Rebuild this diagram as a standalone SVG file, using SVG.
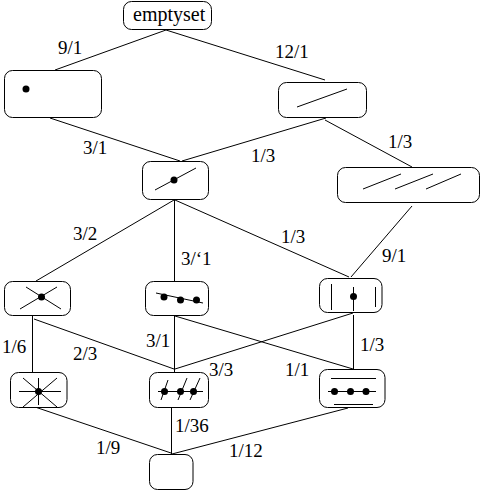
<svg xmlns="http://www.w3.org/2000/svg" width="481" height="490" viewBox="0 0 481 490">
<style>
.n{fill:#fff;stroke:#000;stroke-width:1}
.l{fill:none;stroke:#000;stroke-width:1}
.d{fill:#000;stroke:none}
text{font-family:"Liberation Serif","Times New Roman",serif;font-size:19px;fill:#000}
</style>
<rect width="481" height="490" fill="#fff"/>
<g id="connectors" class="l">
<path d="M166 30L55 70M166 30L325 80M50 118L180 161M182 161L326 118M325 120L412 167M174 200L36 281M174.500 200V281M175 200L349 277M412 206L351 277M32.500 316V372M34 319L174 369M175 369L353 313M175 316L353 369M174.500 316V372M353.500 315V369M35 407L171 453M171.500 407V454M172 454L348 408"/>
</g>
<g id="n-emptyset"><rect class="n" x="123.500" y="1.500" width="88" height="28" rx="8"/><text x="133" y="21" style="font-size:20px">emptyset</text></g>
<g id="n-point"><rect class="n" x="4.500" y="70.500" width="97" height="47" rx="8"/><circle class="d" cx="26" cy="89" r="3.500"/></g>
<g id="n-line"><rect class="n" x="278.500" y="82.500" width="88" height="35" rx="8"/><path class="l" d="M297 107L347 89"/></g>
<g id="n-pointline"><rect class="n" x="142.500" y="161.500" width="66" height="38" rx="8"/><path class="l" d="M155 190L196 168"/><circle class="d" cx="174" cy="180" r="3.500"/></g>
<g id="n-parallel"><rect class="n" x="337.500" y="167.500" width="142" height="35" rx="8"/><path class="l" d="M363 189L401 174M395 189L433 174M426 189L461 174"/></g>
<g id="n-cross"><rect class="n" x="4.500" y="281.500" width="66" height="34" rx="8"/><path class="l" d="M26 287L61 309M20 309L57 287"/><circle class="d" cx="41.500" cy="297" r="3.500"/></g>
<g id="n-collinear"><rect class="n" x="145.500" y="281.500" width="63" height="34" rx="8"/><path class="l" d="M156 293L203 303"/><circle class="d" cx="164" cy="297" r="3.500"/><circle class="d" cx="180.500" cy="300" r="3.500"/><circle class="d" cx="196.500" cy="300" r="3.500"/></g>
<g id="n-bars"><rect class="n" x="319.500" y="278.500" width="62.500" height="34" rx="8"/><path class="l" d="M331.500 284V310M353.500 287V311M375.500 287V307"/><circle class="d" cx="353.500" cy="296.500" r="3.500"/></g>
<g id="n-star"><rect class="n" x="10.500" y="372.500" width="56.500" height="35" rx="8"/><path class="l" d="M23 378L57 407M57 378L23 407M19 391.500H61M38.500 378V405"/><circle class="d" cx="38.500" cy="391.500" r="3.500"/></g>
<g id="n-slashes"><rect class="n" x="149.500" y="372.500" width="59" height="35" rx="8"/><path class="l" d="M158 391.500H203M168 380L161 400M187 378L178 400M200 378L190 400"/><circle class="d" cx="164.500" cy="391.500" r="3.500"/><circle class="d" cx="180.500" cy="391.500" r="3.500"/><circle class="d" cx="193.500" cy="391.500" r="3.500"/></g>
<g id="n-threebars"><rect class="n" x="319.500" y="369.500" width="65.500" height="38" rx="8"/><path class="l" d="M331 378.500H376M328 391.500H376M334 404.500H373"/><circle class="d" cx="334.500" cy="391.500" r="3.500"/><circle class="d" cx="350.500" cy="391.500" r="3.500"/><circle class="d" cx="366" cy="391.500" r="3.500"/></g>
<g id="n-bottom"><rect class="n" x="149.500" y="454.500" width="43.500" height="35" rx="8"/></g>
<g id="labels">
<text x="58" y="54">9/1</text><text x="275" y="58">12/1</text>
<text x="83" y="154">3/1</text><text x="251" y="162">1/3</text><text x="388" y="148">1/3</text>
<text x="73" y="240">3/2</text><text x="181" y="265">3/‘1</text><text x="281" y="243">1/3</text><text x="382" y="262">9/1</text>
<text x="2" y="353">1/6</text><text x="73" y="360">2/3</text><text x="146" y="347">3/1</text><text x="209" y="376">3/3</text><text x="285" y="376">1/1</text><text x="360" y="351">1/3</text>
<text x="96" y="454">1/9</text><text x="175" y="432">1/36</text><text x="229" y="457">1/12</text>
</g>
</svg>
